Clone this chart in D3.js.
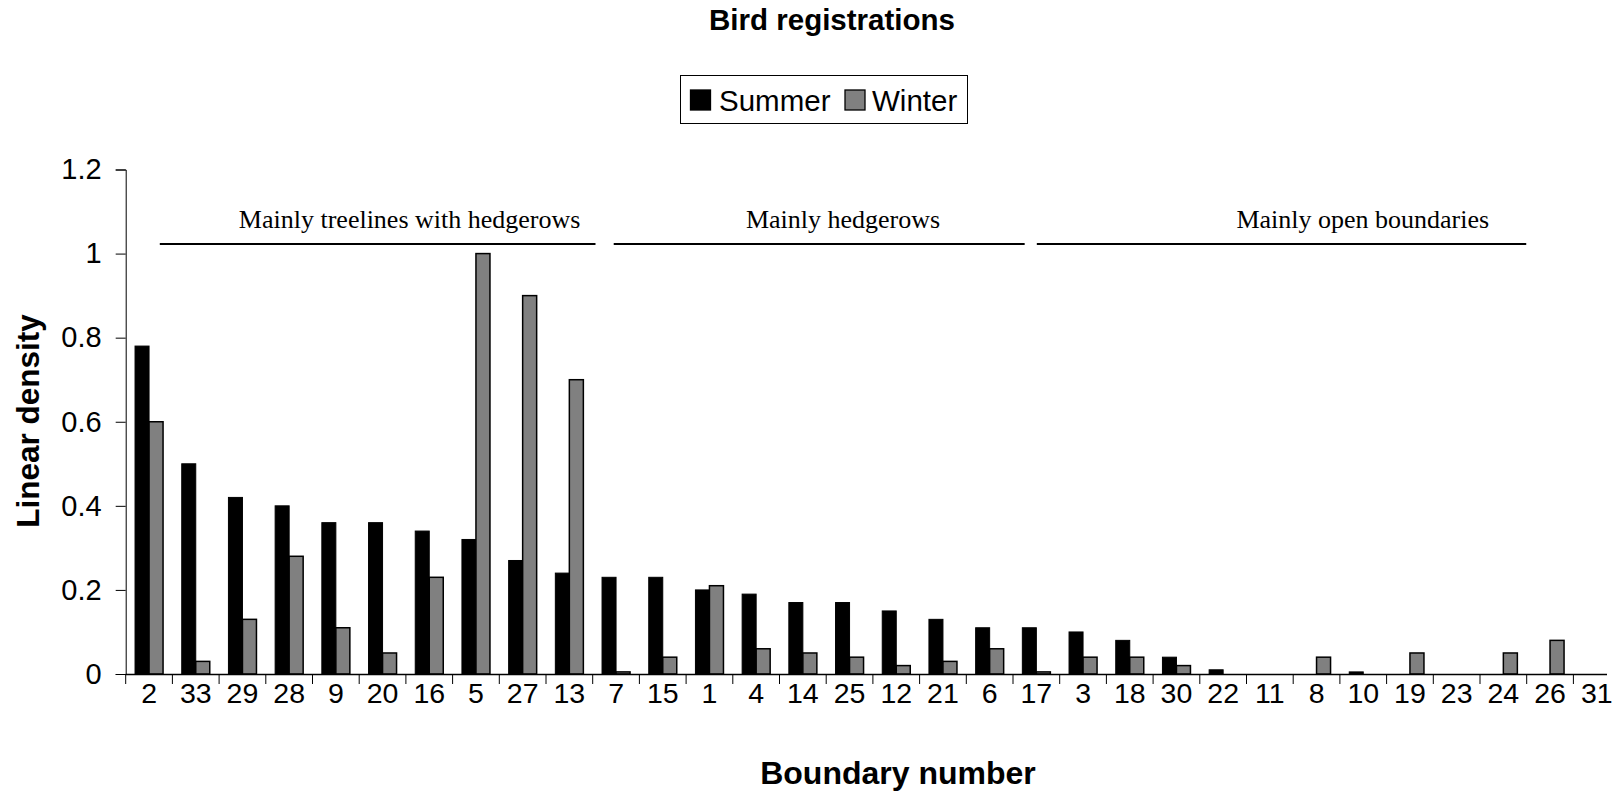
<!DOCTYPE html>
<html>
<head>
<meta charset="utf-8">
<script src="https://cdn.jsdelivr.net/npm/d3@7"></script>
<style>
  html, body { margin: 0; padding: 0; background: #fff; }
  svg { display: block; }
  text { font-family: Arial, "Liberation Sans", sans-serif; fill: #000; }
</style>
</head>
<body>
<svg id="chart" width="1615" height="796"></svg>
<script>
// ---- data ----
const categories = ["2","33","29","28","9","20","16","5","27","13","7","15","1","4","14","25","12","21","6","17","3","18","30","22","11","8","10","19","23","24","26","31"];
const seriesNames = ["Summer", "Winter"];
const summer = [0.78,0.50,0.42,0.40,0.36,0.36,0.34,0.32,0.27,0.24,0.23,0.23,0.20,0.19,0.17,0.17,0.15,0.13,0.11,0.11,0.10,0.08,0.04,0.01,0,0,0.005,0,0,0,0,0];
const winter = [0.60,0.03,0.13,0.28,0.11,0.05,0.23,1.00,0.90,0.70,0.005,0.04,0.21,0.06,0.05,0.04,0.02,0.03,0.06,0.005,0.04,0.04,0.02,0,0,0.04,0,0.05,0,0.05,0.08,0];
const yTicks = [0, 0.2, 0.4, 0.6, 0.8, 1, 1.2];
const groupLabels = ["Mainly treelines with hedgerows", "Mainly hedgerows", "Mainly open boundaries"];
// group spans in category units (start, end, label centre)
const groupStart = [0.73, 10.45, 19.51];
const groupEnd = [10.06, 19.25, 29.99];
const groupCentre = [6.08, 15.36, 26.49];
const chartTitle = "Bird registrations";
const xTitle = "Boundary number";
const yTitle = "Linear density";

// ---- layout ----
const svg = d3.select("#chart");
const plotLeft = 125.7, step = 46.7, plotTop = 169.5, plotBottom = 674;
const axisEnd = 1607;
const colors = { Summer: "#000000", Winter: "#808080" };

const x = d3.scaleBand().domain(categories).range([plotLeft, plotLeft + step * categories.length]).paddingInner(0).paddingOuter(0);
const xUnits = d3.scaleLinear().domain([0, categories.length]).range([plotLeft, plotLeft + step * categories.length]);
const xs = d3.scaleBand().domain(seriesNames).range([0, x.bandwidth()]).paddingInner(0).paddingOuter(0.667);
const y = d3.scaleLinear().domain([0, 1.2]).range([plotBottom, plotTop]);

// title
svg.append("text").attr("x", 832).attr("y", 30).attr("text-anchor", "middle")
  .style("font-size", "29.5px").style("font-weight", "bold").text(chartTitle);

// legend
const lg = svg.append("g");
lg.append("rect").attr("x", 680.5).attr("y", 75.5).attr("width", 287).attr("height", 48)
  .attr("fill", "#fff").attr("stroke", "#000").attr("stroke-width", 1);
const legendItems = [{name: "Summer", sx: 690.5, tx: 719}, {name: "Winter", sx: 845, tx: 872}];
legendItems.forEach(d => {
  lg.append("rect").attr("x", d.sx).attr("y", 90).attr("width", 20).attr("height", 20)
    .attr("fill", colors[d.name]).attr("stroke", "#000").attr("stroke-width", 1.3);
  lg.append("text").attr("x", d.tx).attr("y", 111).style("font-size", "29.5px").text(d.name);
});

// bars
const data = categories.map((c, i) => ({ c, Summer: summer[i], Winter: winter[i] }));
const barG = svg.append("g");
data.forEach(d => {
  seriesNames.forEach(s => {
    const v = d[s];
    if (v <= 0) return;
    barG.append("rect")
      .attr("x", x(d.c) + xs(s))
      .attr("y", y(v))
      .attr("width", xs.bandwidth())
      .attr("height", y(0) - y(v))
      .attr("fill", colors[s])
      .attr("stroke", "#000")
      .attr("stroke-width", s === "Winter" ? 1.5 : 1);
  });
});

// y axis
const yAxis = d3.axisLeft(y).tickValues(yTicks).tickSize(10).tickPadding(14)
  .tickFormat(d => d === 0 ? "0" : String(+d.toFixed(1)));
const yg = svg.append("g").attr("transform", `translate(${plotLeft},0)`).call(yAxis);
yg.selectAll("text").style("font-size", "29px").style("font-family", "Arial, 'Liberation Sans', sans-serif");
yg.selectAll("line,path").attr("stroke", "#000");

// x axis: labels centred on categories, ticks at category boundaries
const xAxis = d3.axisBottom(x).tickSize(0).tickPadding(9);
const xg = svg.append("g").attr("transform", `translate(0,${plotBottom})`).call(xAxis);
xg.select(".domain").remove();
xg.selectAll("text").style("font-size", "28.5px").style("font-family", "Arial, 'Liberation Sans', sans-serif");
svg.append("line").attr("x1", plotLeft).attr("x2", axisEnd).attr("y1", plotBottom + 0.5).attr("y2", plotBottom + 0.5)
  .attr("stroke", "#000").attr("stroke-width", 1.5);
const boundaries = d3.range(categories.length).map(i => xUnits(i));
svg.append("g").selectAll("line").data(boundaries).join("line")
  .attr("x1", d => d).attr("x2", d => d).attr("y1", plotBottom).attr("y2", plotBottom + 10)
  .attr("stroke", "#000").attr("stroke-width", 1);

// group annotations
const ga = svg.append("g");
groupLabels.forEach((lab, i) => {
  ga.append("line").attr("x1", xUnits(groupStart[i])).attr("x2", xUnits(groupEnd[i]))
    .attr("y1", y(1.023)).attr("y2", y(1.023)).attr("stroke", "#000").attr("stroke-width", 2);
  ga.append("text").attr("x", xUnits(groupCentre[i])).attr("y", y(1.062)).attr("text-anchor", "middle")
    .style("font-family", "'Times New Roman', 'Liberation Serif', serif").style("font-size", "26px").text(lab);
});

// axis titles
svg.append("text").attr("x", 898).attr("y", 784).attr("text-anchor", "middle")
  .style("font-size", "32px").style("font-weight", "bold").text(xTitle);
svg.append("text").attr("transform", "translate(39,421) rotate(-90)").attr("text-anchor", "middle")
  .style("font-size", "31.5px").style("font-weight", "bold").text(yTitle);
</script>
</body>
</html>
